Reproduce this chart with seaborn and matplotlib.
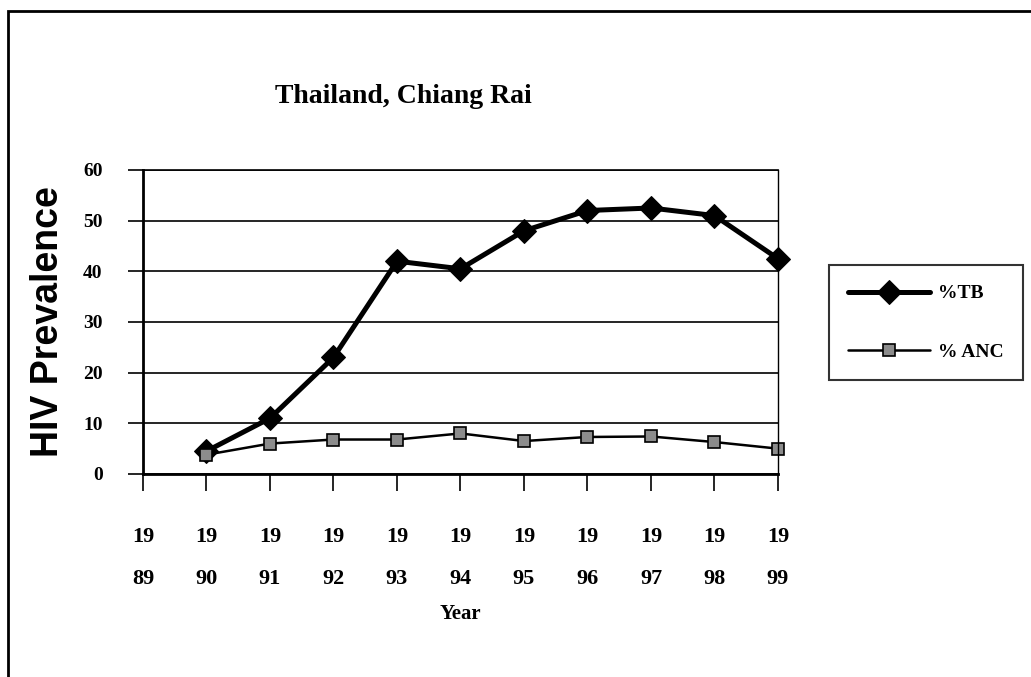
import matplotlib

matplotlib.use("Agg")

import matplotlib.pyplot as plt
import pandas as pd
import seaborn as sns
from matplotlib.patches import Rectangle

# values
years = [1990, 1991, 1992, 1993, 1994, 1995, 1996, 1997, 1998, 1999]
tb_pct = [4.5, 11, 23, 42, 40.5, 48, 52, 52.5, 51, 42.5]
anc_pct = [3.8, 6, 6.8, 6.8, 8, 6.5, 7.3, 7.4, 6.3, 5]

tick_years = [1989, 1990, 1991, 1992, 1993, 1994, 1995, 1996, 1997, 1998, 1999]
tick_labels = ["19\n89", "19\n90", "19\n91", "19\n92", "19\n93", "19\n94",
               "19\n95", "19\n96", "19\n97", "19\n98", "19\n99"]
y_ticks = [0, 10, 20, 30, 40, 50, 60]


def main() -> None:
    sns.set_theme(style="white")
    plt.rcParams["font.family"] = ["Liberation Serif", "DejaVu Serif"]
    plt.rcParams["text.color"] = "black"
    plt.rcParams["axes.labelcolor"] = "black"

    fig = plt.figure(figsize=(10.31, 6.77), dpi=100)
    ax = fig.add_axes([0.1387, 0.2999, 0.6159, 0.449])

    df = pd.DataFrame({"year": years, "tb": tb_pct, "anc": anc_pct})

    sns.lineplot(data=df, x="year", y="tb", ax=ax, color="black", lw=3.6,
                 marker="D", markersize=12, markerfacecolor="black",
                 markeredgecolor="black", label="%TB")
    sns.lineplot(data=df, x="year", y="anc", ax=ax, color="black", lw=1.8,
                 marker="s", markersize=9, markerfacecolor="#8c8c8c",
                 markeredgecolor="black", markeredgewidth=1.2, label="% ANC")
    for line in ax.lines:
        line.set_clip_on(False)

    ax.set_xlim(1989, 1999)
    ax.set_ylim(0, 60)
    ax.set_yticks(y_ticks)
    ax.yaxis.grid(True, color="black", lw=1.2)
    ax.xaxis.grid(False)

    ax.set_xticks(tick_years)
    ax.set_xticklabels(tick_labels, linespacing=2.5, fontweight="bold")
    ax.set_yticklabels([str(v) for v in y_ticks], fontweight="bold")
    ax.tick_params(axis="x", direction="out", length=12, width=1.2, pad=26,
                   labelsize=16, bottom=True, colors="black")
    ax.tick_params(axis="y", direction="out", length=11, width=1.2, pad=18,
                   labelsize=14, left=True, colors="black")

    for side, w in [("left", 2.0), ("bottom", 2.0), ("top", 1.2), ("right", 1.0)]:
        ax.spines[side].set_visible(True)
        ax.spines[side].set_color("black")
        ax.spines[side].set_linewidth(w)

    ax.set_xlabel("Year", fontsize=15, fontweight="bold")
    ax.xaxis.set_label_coords(0.5, -0.46)
    ax.xaxis.label.set_va("center")

    ax.set_ylabel("HIV Prevalence", family=["Liberation Sans", "DejaVu Sans"],
                  fontsize=27, fontweight="bold")
    ax.yaxis.set_label_coords(-0.1496, 0.5)
    ax.yaxis.label.set_va("center")

    leg = ax.legend(loc="center left", bbox_to_anchor=(1.08, 0.497),
                    borderaxespad=0, frameon=True, fancybox=False,
                    edgecolor="black", handlelength=4.2, handletextpad=0.4,
                    labelspacing=2.1, borderpad=1.0,
                    prop={"weight": "bold", "size": 14})
    leg.get_frame().set_linewidth(1.5)

    fig.text(0.391, 0.858, "Thailand, Chiang Rai", ha="center", va="center",
             fontsize=20, fontweight="bold")

    # chart-area border (only left and top visible in the scan)
    fig.add_artist(Rectangle((0.0078, -0.5), 2.0, 0.9838 + 0.5,
                             transform=fig.transFigure, fill=False,
                             lw=2, ec="black"))

    fig.savefig("out.png", dpi=100)
    plt.close(fig)


if __name__ == "__main__":
    main()
